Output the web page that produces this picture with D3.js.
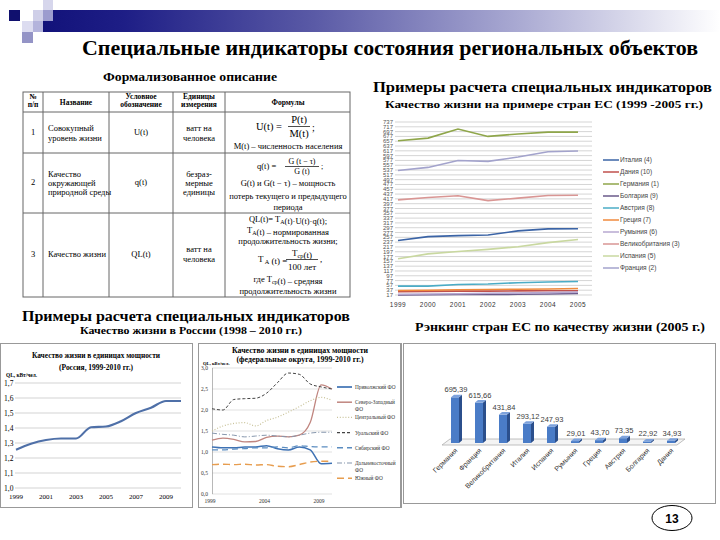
<!DOCTYPE html>
<html><head><meta charset="utf-8">
<script src="https://cdn.jsdelivr.net/npm/d3@7"></script>
<style>body{margin:0;background:#fff}svg{display:block}</style>
</head><body><svg id="c" width="720" height="540"></svg>
<script>
// ---------- DATA ----------
const euYears = [1999, 2000, 2001, 2002, 2003, 2004, 2005];
const euNames = ["Италия (4)", "Дания (10)", "Германия (1)", "Болгария (9)", "Австрия (8)", "Греция (7)", "Румыния (6)", "Великобритания (3)", "Испания (5)", "Франция (2)"];
const euItaly    = [244, 260, 264, 267, 284, 292, 293];
const euDenmark  = [31, 32, 33, 33, 34, 35, 35];
const euGermany  = [659, 670, 708, 677, 687, 695, 695];
const euBulgaria = [17, 18, 19, 19, 20, 21, 23];
const euAustria  = [54, 54, 61, 63, 68, 71, 73];
const euGreece   = [36, 37, 39, 40, 41, 42, 44];
const euRomania  = [20, 21, 22, 24, 25, 27, 29];
const euUK       = [413, 423, 430, 410, 420, 431, 432];
const euSpain    = [168, 188, 198, 207, 218, 235, 248];
const euFrance   = [535, 548, 577, 573, 591, 613, 616];
const euTicks = [17,37,57,77,97,117,137,157,177,197,217,237,257,277,297,317,337,357,377,397,417,437,457,477,497,517,537,557,577,597,617,637,657,677,697,717,737];

const ruYears = [1999, 2000, 2001, 2002, 2003, 2004, 2005, 2006, 2007, 2008, 2009, 2010];
const ruQL = [1.255, 1.295, 1.32, 1.33, 1.33, 1.405, 1.41, 1.445, 1.5, 1.535, 1.58, 1.58];
const ruYTicks = [1.0, 1.1, 1.2, 1.3, 1.4, 1.5, 1.6, 1.7];
const ruXTicks = [1999, 2001, 2003, 2005, 2007, 2009];

const foYears = [1999, 2000, 2001, 2002, 2003, 2004, 2005, 2006, 2007, 2008, 2009, 2010];
const foNames = ["Приволжский ФО", "Северо-Западный ФО", "Центральный ФО", "Уральский ФО", "Сибирский ФО", "Дальневосточный ФО", "Южный ФО"];
const foPrivolzh   = [1.12, 1.10, 1.10, 1.12, 1.12, 1.15, 1.08, 1.05, 1.12, 1.05, 0.72, 0.73];
const foSevZap     = [1.28, 1.33, 1.30, 1.24, 1.25, 1.35, 1.38, 1.36, 1.40, 1.70, 2.60, 2.50];
const foCentral    = [1.50, 1.62, 1.68, 1.70, 1.62, 1.75, 1.83, 1.95, 2.08, 2.22, 2.30, 2.23];
const foUral       = [2.03, 2.00, 2.25, 2.27, 2.28, 2.40, 2.65, 2.88, 2.85, 2.62, 2.55, 2.50];
const foSibir      = [1.05, 1.05, 1.07, 1.08, 1.10, 1.10, 1.12, 1.10, 1.15, 1.13, 1.12, 1.12];
const foDalnevost  = [1.45, 1.42, 1.40, 1.36, 1.38, 1.40, 1.38, 1.36, 1.40, 1.45, 1.47, 1.47];
const foYuzh       = [0.70, 0.71, 0.70, 0.71, 0.69, 0.70, 0.66, 0.65, 0.70, 0.76, 0.78, 0.78];
const foYTicks = [0, 0.5, 1.0, 1.5, 2.0, 2.5, 3.0];
const foXTicks = [1999, 2004, 2009];

const rankCountries = ["Германия", "Франция", "Великобритания", "Италия", "Испания", "Румыния", "Греция", "Австрия", "Болгария", "Дания"];
const rankValues = [695.39, 615.66, 431.84, 293.12, 247.93, 29.01, 43.70, 73.35, 22.92, 34.93];

// ---------- STYLE ----------
const SERIF = "'Liberation Serif','Times New Roman',serif";
const SANS = "'Liberation Sans',Arial,sans-serif";
const svg = d3.select("#c");
svg.append("rect").attr("width", 720).attr("height", 540).attr("fill", "#fff");

function txt(g, x, y, s, o = {}) {
  const t = g.append("text").attr("x", x).attr("y", y)
    .attr("font-family", o.ff || SERIF).attr("font-size", o.fs || 9)
    .attr("font-weight", o.fw || "normal").attr("fill", o.fill || "#000")
    .attr("text-anchor", o.anchor || "start").text(s);
  if (o.len) t.attr("textLength", o.len).attr("lengthAdjust", "spacingAndGlyphs");
  return t;
}

// ---------- HEADER ----------
const defs = svg.append("defs");
const lg = defs.append("linearGradient").attr("id", "hg").attr("x1", 0).attr("x2", 1).attr("y1", 0).attr("y2", 0);
[[0, "#12127a"], [0.12, "#1e1e86"], [0.4, "#5a5aa6"], [0.7, "#a9a9d2"], [1, "#ffffff"]].forEach(([o, c]) =>
  lg.append("stop").attr("offset", o).attr("stop-color", c));
svg.append("rect").attr("x", 43).attr("y", 10).attr("width", 677).attr("height", 22).attr("fill", "url(#hg)");
[[9, 10, 11, 11, "#10106e"], [33, 10, 10, 11, "#cfcfe8"], [43, 0, 10, 10, "#d6d6ec"], [43, 10, 10, 11, "#9c9cce"],
 [22, 21, 11, 11, "#dcdcf0"], [33, 21, 10, 11, "#b4b4dc"], [22, 32, 11, 11, "#9494c6"]].forEach(([x, y, w, h, c]) =>
  svg.append("rect").attr("x", x).attr("y", y).attr("width", w).attr("height", h).attr("fill", c));

txt(svg, 82, 55, "Специальные индикаторы состояния региональных объектов", {fs: 20, fw: "bold", len: 616});
txt(svg, 190, 81, "Формализованное описание", {fs: 13, fw: "bold", anchor: "middle", len: 174});
txt(svg, 373, 92, "Примеры расчета специальных индикаторов", {fs: 15, fw: "bold", len: 339});
txt(svg, 385, 108, "Качество жизни на примере стран ЕС (1999 -2005 гг.)", {fs: 11, fw: "bold", len: 318});
txt(svg, 22, 321, "Примеры расчета специальных индикаторов", {fs: 15, fw: "bold", len: 328});
txt(svg, 191, 334, "Качество жизни в России (1998 – 2010 гг.)", {fs: 11, fw: "bold", anchor: "middle", len: 222});
txt(svg, 415, 331, "Рэнкинг стран ЕС по качеству жизни (2005 г.)", {fs: 12, fw: "bold", len: 290});

// ---------- TABLE ----------
const tb = svg.append("g");
tb.append("rect").attr("x", 23).attr("y", 92).attr("width", 327).attr("height", 205)
  .attr("fill", "none").attr("stroke", "#666").attr("stroke-width", 1);
[43, 109, 173, 225].forEach(x => tb.append("line").attr("x1", x).attr("x2", x).attr("y1", 92).attr("y2", 297).attr("stroke", "#666"));
[112, 153, 213].forEach(y => tb.append("line").attr("x1", 23).attr("x2", 350).attr("y1", y).attr("y2", y).attr("stroke", "#666"));
const hb = {fs: 7.5, fw: "bold", anchor: "middle"};
txt(tb, 33, 99, "№", hb); txt(tb, 33, 107, "п/п", hb);
txt(tb, 76, 105, "Название", hb);
txt(tb, 141, 99, "Условное", hb); txt(tb, 141, 107, "обозначение", hb);
txt(tb, 199, 99, "Единицы", hb); txt(tb, 199, 107, "измерения", hb);
txt(tb, 288, 105, "Формулы", hb);
const bc = {fs: 8.5, anchor: "middle"}, bl = {fs: 8.5};
// row 1
txt(tb, 33, 135, "1", bc);
txt(tb, 48, 131, "Совокупный", bl); txt(tb, 48, 141, "уровень жизни", bl);
txt(tb, 141, 135, "U(t)", bc);
txt(tb, 199, 131, "ватт на", bc); txt(tb, 199, 141, "человека", bc);
txt(tb, 256, 130, "U(t) =", {fs: 10.5});
txt(tb, 299, 123, "P(t)", {fs: 10.5, anchor: "middle"});
tb.append("line").attr("x1", 288).attr("x2", 310).attr("y1", 126.5).attr("y2", 126.5).attr("stroke", "#000").attr("stroke-width", 0.7);
txt(tb, 299, 137, "M(t)", {fs: 10.5, anchor: "middle"});
txt(tb, 312, 131, ";", {fs: 10});
txt(tb, 288, 149, "M(t) – численность населения", {fs: 8.5, anchor: "middle"});
// row 2
txt(tb, 33, 185, "2", bc);
txt(tb, 48, 177, "Качество", bl); txt(tb, 48, 186, "окружающей", bl); txt(tb, 48, 195, "природной среды", bl);
txt(tb, 141, 185, "q(t)", bc);
txt(tb, 199, 177, "безраз-", bc); txt(tb, 199, 186, "мерные", bc); txt(tb, 199, 195, "единицы", bc);
txt(tb, 257, 169, "q(t)  =", {fs: 8.5});
txt(tb, 302, 164, "G (t − τ)", {fs: 8, anchor: "middle"});
tb.append("line").attr("x1", 285).attr("x2", 319).attr("y1", 166.5).attr("y2", 166.5).attr("stroke", "#000").attr("stroke-width", 0.7);
txt(tb, 302, 174, "G (t)", {fs: 8, anchor: "middle"});
txt(tb, 321, 169, ";", {fs: 8});
txt(tb, 288, 186, "G(t) и G(t − τ) – мощность", {fs: 8.5, anchor: "middle"});
txt(tb, 288, 199, "потерь текущего и предыдущего", {fs: 8.5, anchor: "middle"});
txt(tb, 288, 210, "периода", {fs: 8.5, anchor: "middle"});
// row 3
txt(tb, 33, 257, "3", bc);
txt(tb, 48, 257, "Качество жизни", bl);
txt(tb, 141, 257, "QL(t)", bc);
txt(tb, 199, 252, "ватт на", bc); txt(tb, 199, 262, "человека", bc);
function subText(x, y, parts, o) {
  const t = txt(tb, x, y, "", o);
  parts.forEach(p => {
    if (typeof p === "string") t.append("tspan").text(p);
    else {
      t.append("tspan").attr("font-size", o.fs * 0.7).attr("dy", 1.5).text(p.sub);
      t.append("tspan").attr("dy", -1.5).text("");
    }
  });
  return t;
}
const fo3 = {fs: 8.5, anchor: "middle"};
subText(288, 222, ["QL(t)= T", {sub: "A"}, "(t)·U(t)·q(t);"], fo3);
subText(288, 233, ["T", {sub: "A"}, "(t) – нормированная"], fo3);
txt(tb, 288, 244, "продолжительность жизни;", fo3);
subText(258, 262, ["T", {sub: " A"}, " (t) ="], {fs: 9});
subText(302, 256, ["T", {sub: "ср"}, "(t)"], {fs: 9, anchor: "middle"});
tb.append("line").attr("x1", 286).attr("x2", 318).attr("y1", 259.5).attr("y2", 259.5).attr("stroke", "#000").attr("stroke-width", 0.7);
txt(tb, 302, 270, "100  лет", {fs: 9, anchor: "middle"});
txt(tb, 320, 262, ",", {fs: 9});
subText(288, 282, ["где  T", {sub: "ср"}, "(t) – средняя"], fo3);
txt(tb, 288, 294, "продолжительность жизни", fo3);

// ---------- EU LINE CHART ----------
const eu = svg.append("g");
const xEU = d3.scaleLinear().domain([1999, 2005]).range([398, 578]);
const yEU = d3.scaleLinear().domain([17, 737]).range([295, 122]);
eu.selectAll(".g").data(euTicks).join("line")
  .attr("x1", 395).attr("x2", 592).attr("y1", d => yEU(d)).attr("y2", d => yEU(d))
  .attr("stroke", "#b8b8b8").attr("stroke-width", 0.6);
eu.selectAll(".yl").data(euTicks).join("text")
  .attr("x", 393).attr("y", d => yEU(d) + 2).attr("text-anchor", "end")
  .attr("font-family", SANS).attr("font-size", 6).attr("fill", "#555").text(d => d);
eu.selectAll(".xl").data(euYears).join("text")
  .attr("x", d => xEU(d)).attr("y", 307).attr("text-anchor", "middle")
  .attr("font-family", SANS).attr("font-size", 6.5).attr("fill", "#333").attr("letter-spacing", 0.5).text(d => d);
const euSeries = [euItaly, euDenmark, euGermany, euBulgaria, euAustria, euGreece, euRomania, euUK, euSpain, euFrance];
const euColors = ["#3b64a6", "#c0504d", "#8fa64a", "#6a5a8a", "#4bacc6", "#f08a3c", "#b7a8d0", "#d99694", "#c9d8a0", "#a3a3cc"];
const lineEU = d3.line().x((d, i) => xEU(euYears[i])).y(d => yEU(d));
euSeries.forEach((s, i) => eu.append("path").attr("d", lineEU(s)).attr("fill", "none")
  .attr("stroke", euColors[i]).attr("stroke-width", 1.6));
euNames.forEach((n, i) => {
  const y = 160 + i * 12;
  eu.append("line").attr("x1", 603).attr("x2", 619).attr("y1", y).attr("y2", y).attr("stroke", euColors[i]).attr("stroke-width", 1.5);
  txt(eu, 620, y + 2.3, n, {ff: SANS, fs: 6.5, fill: "#444"});
});

// ---------- RUSSIA CHART ----------
const ru = svg.append("g");
ru.append("rect").attr("x", 0.5).attr("y", 343.5).attr("width", 192).attr("height", 164).attr("fill", "#fff").attr("stroke", "#999");
const xRU = d3.scaleLinear().domain([1999, 2010]).range([16, 181]);
const yRU = d3.scaleLinear().domain([1.0, 1.7]).range([488, 383]);
txt(ru, 96, 358, "Качество жизни в единицах мощности", {fs: 9, fw: "bold", anchor: "middle", len: 128});
txt(ru, 96, 370, "(Россия, 1999-2010 гг.)", {fs: 9, fw: "bold", anchor: "middle", len: 74});
txt(ru, 6, 377, "QL, кВт/чел.", {fs: 6.5, fw: "bold", len: 31});
ru.selectAll(".g").data(ruYTicks).join("line")
  .attr("x1", 15).attr("x2", 181).attr("y1", d => yRU(d)).attr("y2", d => yRU(d)).attr("stroke", "#c8c8c8").attr("stroke-width", 0.8);
ru.selectAll(".yl").data(ruYTicks).join("text").attr("x", 4).attr("y", d => yRU(d) + 2.5)
  .attr("font-family", SERIF).attr("font-size", 7.5).text(d => d3.format(".1f")(d).replace(".", ","));
ru.selectAll(".xl").data(ruXTicks).join("text").attr("x", d => xRU(d)).attr("y", 499).attr("text-anchor", "middle")
  .attr("font-family", SERIF).attr("font-size", 7).text(d => d);
ru.append("path").attr("d", d3.line().curve(d3.curveMonotoneX).x((d, i) => xRU(ruYears[i])).y(d => yRU(d))(ruQL))
  .attr("fill", "none").attr("stroke", "#4f70a8").attr("stroke-width", 2.2);

// ---------- FEDERAL DISTRICTS CHART ----------
const fo = svg.append("g");
fo.append("rect").attr("x", 198.5).attr("y", 343.5).attr("width", 203).attr("height", 164).attr("fill", "#fff").attr("stroke", "#999");
const xFO = d3.scaleLinear().domain([1999, 2010]).range([212, 332]);
const yFO = d3.scaleLinear().domain([0, 3]).range([494, 368]);
txt(fo, 300, 353, "Качество жизни в единицах мощности", {fs: 7.5, fw: "bold", anchor: "middle", len: 136});
txt(fo, 300, 362, "(федеральные округа, 1999-2010 гг.)", {fs: 7.5, fw: "bold", anchor: "middle", len: 127});
txt(fo, 203, 365, "QL, кВт/чел.", {fs: 4.6, fw: "bold"});
fo.selectAll(".g").data(foYTicks).join("line")
  .attr("x1", 212).attr("x2", 332).attr("y1", d => yFO(d)).attr("y2", d => yFO(d)).attr("stroke", "#d4d4d4").attr("stroke-width", 0.7);
fo.append("line").attr("x1", 212.5).attr("x2", 212.5).attr("y1", 368).attr("y2", 494).attr("stroke", "#999").attr("stroke-width", 0.7);
fo.selectAll(".yl").data(foYTicks).join("text").attr("x", 201).attr("y", d => yFO(d) + 2)
  .attr("font-family", SERIF).attr("font-size", 5.5).attr("fill", "#333").text(d => d3.format(".1f")(d).replace(".", ","));
fo.selectAll(".xl").data(foXTicks).join("text").attr("x", d => xFO(d) - 2).attr("y", 503).attr("text-anchor", "middle")
  .attr("font-family", SERIF).attr("font-size", 5.5).attr("fill", "#333").text(d => d);
const foSeries = [foPrivolzh, foSevZap, foCentral, foUral, foSibir, foDalnevost, foYuzh];
const foStyles = [
  {c: "#3e72b4", w: 1.5, d: null},
  {c: "#c0857f", w: 1.3, d: null},
  {c: "#c9c39a", w: 1.2, d: "1,1.8"},
  {c: "#444444", w: 1.0, d: "3,2"},
  {c: "#5a8cc0", w: 1.2, d: "6,4"},
  {c: "#8797ad", w: 1.0, d: "5,2,1,2"},
  {c: "#e79d4f", w: 1.4, d: "7,4"}
];
const lineFO = d3.line().curve(d3.curveMonotoneX).x((d, i) => xFO(foYears[i])).y(d => yFO(d));
foSeries.forEach((s, i) => {
  const p = fo.append("path").attr("d", lineFO(s)).attr("fill", "none").attr("stroke", foStyles[i].c).attr("stroke-width", foStyles[i].w);
  if (foStyles[i].d) p.attr("stroke-dasharray", foStyles[i].d);
});
foNames.forEach((n, i) => {
  const y = 387 + i * 15.2, st = foStyles[i];
  const l = fo.append("line").attr("x1", 337).attr("x2", 352).attr("y1", y).attr("y2", y).attr("stroke", st.c).attr("stroke-width", st.w + 0.2);
  if (st.d) l.attr("stroke-dasharray", st.d);
  const parts = n.length > 15 ? [n.slice(0, n.lastIndexOf(" ")), n.slice(n.lastIndexOf(" ") + 1)] : [n];
  parts.forEach((p, j) => txt(fo, 355, y + 2 + j * 7, p, {fs: 5.3, fill: "#333"}));
});

// ---------- RANKING BAR CHART ----------
const bb = svg.append("g");
bb.append("rect").attr("x", 403.5).attr("y", 343.5).attr("width", 312).attr("height", 160).attr("fill", "#fff").attr("stroke", "#999");
bb.append("line").attr("x1", 400.5).attr("x2", 400.5).attr("y1", 343).attr("y2", 507).attr("stroke", "#999");
const xB = d3.scalePoint().domain(rankCountries).range([455, 671]);
const yB = d3.scaleLinear().domain([0, 700]).range([443, 397]);
const base = yB(0), dx = 3, dy = 2.5, hw = 4;
bb.append("polygon").attr("points", [[xB(rankCountries[0]) - 13, base + 2], [xB(rankCountries[0]) - 5, base - 4],
  [xB(rankCountries[9]) + 14, base - 4], [xB(rankCountries[9]) + 6, base + 2]].map(p => p.join(",")).join(" "))
  .attr("fill", "#f4f4f4").attr("stroke", "#b0b0b0").attr("stroke-width", 0.8);
rankCountries.forEach((c, i) => {
  const x = xB(c), top = yB(rankValues[i]);
  bb.append("polygon").attr("points", [[x + hw, top], [x + hw + dx, top - dy], [x + hw + dx, base - dy], [x + hw, base]].map(p => p.join(",")).join(" "))
    .attr("fill", "#2b4f8c");
  bb.append("rect").attr("x", x - hw).attr("y", top).attr("width", hw * 2).attr("height", base - top).attr("fill", "#4a7cc7");
  bb.append("polygon").attr("points", [[x - hw, top], [x - hw + dx, top - dy], [x + hw + dx, top - dy], [x + hw, top]].map(p => p.join(",")).join(" "))
    .attr("fill", "#7da2dc");
  txt(bb, x + 1, top - 5, d3.format(".2f")(rankValues[i]).replace(".", ","), {ff: SANS, fs: 7.5, fill: "#404040", anchor: "middle"});
  txt(bb, 0, 0, c, {ff: SANS, fs: 7, fill: "#333", anchor: "end"}).attr("transform", `translate(${x + 3},${base + 8}) rotate(-45)`);
});

// ---------- PAGE NUMBER ----------
svg.append("ellipse").attr("cx", 672).attr("cy", 518).attr("rx", 20).attr("ry", 12.5).attr("fill", "none").attr("stroke", "#000").attr("stroke-width", 1);
txt(svg, 672, 522.5, "13", {ff: SANS, fs: 12, fw: "bold", anchor: "middle"});
</script></body></html>
